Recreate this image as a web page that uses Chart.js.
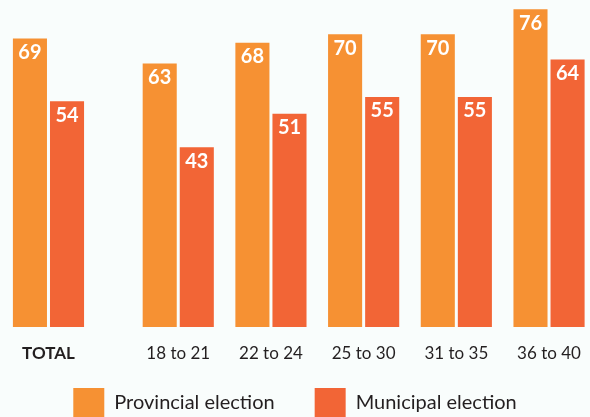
<!DOCTYPE html>
<html>
<head>
<meta charset="utf-8">
<script src="https://cdn.jsdelivr.net/npm/chart.js@4"></script>
<style>
    body {margin: 0; background: #f9fdfc;}
    #wrap {width: 590px; height: 417px; position: relative;}
</style>
</head>
<body>
<div id="wrap"><canvas id="electionChart"></canvas></div>
<script>

// Turnout by age group

var categories = ['TOTAL', '18 to 21', '22 to 24', '25 to 30', '31 to 35', '36 to 40'];
var provincial = [69, 63, 68, 70, 70, 76];
var municipal = [54, 43, 51, 55, 55, 64];
var series_names = ['Provincial election', 'Municipal election'];

var colors = ['#f69133', '#f26536'];
var text_color = '#231f20';
var font_family = "'Lato', sans-serif";

// extra space after the TOTAL group, in group widths
var total_gap = 0.4;

function group_pos(i) {
    return i === 0 ? 0 : i + total_gap;}


Chart.defaults.font.family = font_family;
Chart.defaults.color = text_color;


var value_labels = {
    id: 'value_labels',
    // the x axis is kept short so the legend sits close; let its labels show below it
    afterLayout: function(chart) {
        chart.scales.x.bottom += 24;},
    afterDatasetsDraw: function(chart) {
        var ctx = chart.ctx;
        ctx.save();
        ctx.fillStyle = 'white';
        ctx.font = 'bold 20px ' + font_family;
        ctx.textAlign = 'center';
        ctx.textBaseline = 'top';
        chart.data.datasets.forEach(function(ds, d) {
            chart.getDatasetMeta(d).data.forEach(function(bar, i) {
                ctx.fillText(ds.data[i].y, bar.x, bar.y + 4);});});
        ctx.restore();}
};


function make_set(label, values, color) {
    return {
        label: label,
        data: values.map(function(v, i) { return {x: group_pos(i), y: v}; }),
        backgroundColor: color,
        borderWidth: 0,};
}


var ctx = document.getElementById('electionChart').getContext('2d');

var chart_object = new Chart(ctx, {
    type: 'bar',
    data: {
        datasets: [
            make_set(series_names[0], provincial, colors[0]),
            make_set(series_names[1], municipal, colors[1]),],},

    options: {
        responsive: true,
        maintainAspectRatio: false,
        animation: false,
        barPercentage: 34 / 37,
        categoryPercentage: 0.8,
        layout: {padding: {top: 0, left: 0, right: 0, bottom: -11}},

        scales: {
            x: {
                type: 'linear',
                min: -0.523,
                max: 5.842,
                offset: false,
                grid: {display: false, drawTicks: false},
                border: {display: false},
                afterBuildTicks: function(scale) {
                    scale.ticks = categories.map(function(c, i) {
                        return {value: group_pos(i)}; });},
                afterFit: function(scale) {
                    scale.height = 21;
                    scale.paddingLeft = 0;
                    scale.paddingRight = 0;},
                ticks: {
                    autoSkip: false,
                    maxRotation: 0,
                    padding: 16,
                    color: text_color,
                    font: function(c) {
                        return c.index === 0
                            ? {size: 17, weight: 'bold'}
                            : {size: 17, weight: 'normal'};},
                    callback: function(value, index) {
                        return categories[index];},},},
            y: {
                display: false,
                beginAtZero: true,
                max: 78.2,},
        },

        plugins: {
            legend: {
                position: 'bottom',
                labels: {
                    boxWidth: 31,
                    boxHeight: 30,
                    padding: 40,
                    color: text_color,
                    font: {size: 20},},},
            tooltip: {enabled: false},
        },
    },
    plugins: [value_labels],
});

</script>
</body>
</html>
